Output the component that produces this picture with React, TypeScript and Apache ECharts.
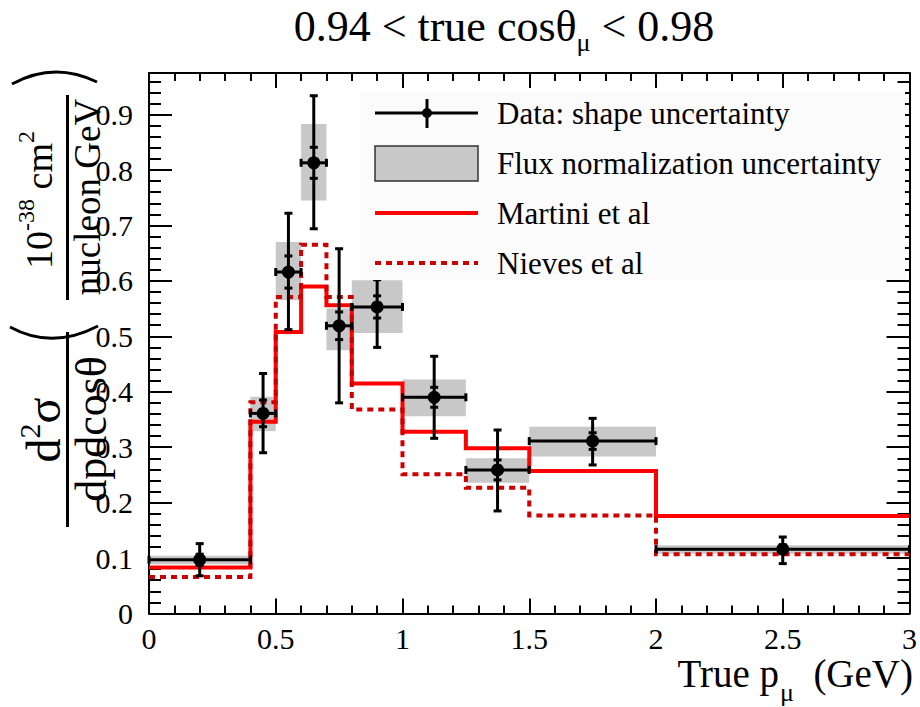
import React, { useEffect, useRef } from 'react';
import * as echarts from 'echarts';

// ---- data ----
const BIN_EDGES = [0, 0.4, 0.5, 0.6, 0.7, 0.8, 1.0, 1.25, 1.5, 2.0, 3.0];
const DATA_X = [0.2, 0.45, 0.55, 0.65, 0.75, 0.9, 1.125, 1.375, 1.75, 2.5];
const DATA_Y = [0.097, 0.361, 0.616, 0.813, 0.519, 0.553, 0.39, 0.259, 0.311, 0.116];
const ERR_UP = [0.029, 0.072, 0.106, 0.121, 0.139, 0.049, 0.074, 0.072, 0.041, 0.022];
const ERR_DOWN = [0.029, 0.071, 0.104, 0.119, 0.139, 0.073, 0.074, 0.074, 0.043, 0.026];
const STAT_ERR = [0.01, 0.024, 0.029, 0.028, 0.025, 0.02, 0.018, 0.018, 0.015, 0.008];
const FLUX_LOW = [0.089, 0.329, 0.565, 0.745, 0.475, 0.506, 0.356, 0.236, 0.283, 0.108];
const FLUX_HIGH = [0.104, 0.391, 0.67, 0.883, 0.55, 0.601, 0.422, 0.28, 0.337, 0.123];
const MARTINI = [0.083, 0.346, 0.508, 0.59, 0.556, 0.415, 0.328, 0.298, 0.257, 0.176];
const NIEVES = [0.066, 0.381, 0.571, 0.665, 0.571, 0.368, 0.251, 0.227, 0.177, 0.107];

const X_MIN = 0;
const X_MAX = 3;
const X_STEP = 0.5;
const Y_MIN = 0;
const Y_MAX = 0.975;
const Y_STEP = 0.1;

const LEGEND_LABELS = [
  'Data: shape uncertainty',
  'Flux normalization uncertainty',
  'Martini et al',
  'Nieves et al',
];

const FONT = "'Liberation Serif', 'Times New Roman', serif";

function measure(text: string, size: number): number {
  const cv = document.createElement('canvas');
  const ctx = cv.getContext('2d');
  if (!ctx) return text.length * size * 0.5;
  ctx.font = `${size}px 'Liberation Serif'`;
  return ctx.measureText(text).width;
}

export default function App() {
  const ref = useRef<HTMLDivElement>(null);

  useEffect(() => {
    if (!ref.current) return;
    const chart = echarts.init(ref.current, null, { renderer: 'svg' });

    const stepPoints = (vals: number[]) => {
      const pts: number[][] = [];
      vals.forEach((v, i) => {
        pts.push([BIN_EDGES[i], v]);
        pts.push([BIN_EDGES[i + 1], v]);
      });
      return pts;
    };
    const bandRows = FLUX_LOW.map((lo, i) => [BIN_EDGES[i], BIN_EDGES[i + 1], lo, FLUX_HIGH[i]]);
    const dataRows = DATA_X.map((x, i) => [
      x, BIN_EDGES[i], BIN_EDGES[i + 1], DATA_Y[i], ERR_DOWN[i], ERR_UP[i], STAT_ERR[i],
    ]);

    const tickLine = { color: '#000', width: 2 };
    const xBase: any = {
      type: 'value', min: X_MIN, max: X_MAX, interval: X_STEP,
      axisLine: { show: true, onZero: false, lineStyle: tickLine },
      axisTick: { show: true, inside: true, length: 15, lineStyle: tickLine },
      minorTick: { show: true, splitNumber: 5, length: 8, lineStyle: tickLine },
      splitLine: { show: false }, minorSplitLine: { show: false },
    };
    const yBase: any = {
      type: 'value', min: Y_MIN, max: Y_MAX, interval: Y_STEP,
      axisLine: { show: true, onZero: false, lineStyle: tickLine },
      axisTick: { show: true, inside: true, length: 23, lineStyle: tickLine },
      minorTick: { show: true, splitNumber: 5, length: 12, lineStyle: tickLine },
      splitLine: { show: false }, minorSplitLine: { show: false },
    };

    const black = '#000';
    const richText = (sz: number, subSz: number, lh: number, va: string) => ({
      a: { fontFamily: FONT, fontSize: sz, lineHeight: lh, fill: black, color: black },
      s: { fontFamily: FONT, fontSize: subSz, lineHeight: subSz + 2, verticalAlign: va, fill: black, color: black },
    });

    const legX0 = 375, legX1 = 478, legTextX = 497;
    const legY = [113, 163, 213, 263];

    // x-axis title pieces, laid out right to left from the plot's right edge
    const xtRight = 913;
    const xtSize = 39;
    const wGeV = measure('(GeV)', xtSize);
    const wSp = measure('  ', xtSize);
    const wMu = measure('μ', 26);
    const muRight = xtRight - wGeV - wSp;
    const pRight = muRight - wMu - 1;

    const barX = 67.5;

    const graphics: any[] = [
      // title
      {
        type: 'text', x: 504, y: 26, z: 10,
        style: {
          text: '{a|0.94 < true cosθ}{s|μ}{a| < 0.98}',
          rich: richText(44, 26, 58, 'bottom'),
          align: 'center', verticalAlign: 'middle', fill: black,
        },
      },
      // x axis title
      {
        type: 'text', x: xtRight, y: 673, z: 10,
        style: { text: '(GeV)', font: `${xtSize}px ${FONT}`, align: 'right', verticalAlign: 'middle', fill: black },
      },
      {
        type: 'text', x: muRight, y: 692, z: 10,
        style: { text: 'μ', font: `26px ${FONT}`, align: 'right', verticalAlign: 'middle', fill: black },
      },
      {
        type: 'text', x: pRight, y: 673, z: 10,
        style: { text: 'True p', font: `${xtSize}px ${FONT}`, align: 'right', verticalAlign: 'middle', fill: black },
      },
      // y axis title pieces (rotated)
      {
        type: 'text', x: 43, y: 430, rotation: Math.PI / 2, z: 10,
        style: {
          text: '{a|d}{s|2}{a|σ}', rich: richText(48, 30, 58, 'top'),
          align: 'center', verticalAlign: 'middle', fill: black,
        },
      },
      { type: 'line', z: 10, shape: { x1: barX, y1: 332, x2: barX, y2: 527 }, style: { stroke: black, lineWidth: 3 } },
      {
        type: 'text', x: 91, y: 429, rotation: Math.PI / 2, z: 10,
        style: { text: 'dpdcosθ', font: `44px ${FONT}`, align: 'center', verticalAlign: 'middle', fill: black },
      },
      {
        type: 'bezierCurve', z: 10,
        shape: { x1: 10, y1: 327, x2: 98, y2: 326, cpx1: 52, cpy1: 350 },
        style: { stroke: black, lineWidth: 3, fill: 'none' },
      },
      {
        type: 'text', x: 39, y: 200, rotation: Math.PI / 2, z: 10,
        style: {
          text: '{a|10}{s|-38}{a| cm}{s|2}', rich: richText(38, 24, 50, 'top'),
          align: 'center', verticalAlign: 'middle', fill: black,
        },
      },
      { type: 'line', z: 10, shape: { x1: barX, y1: 95, x2: barX, y2: 300 }, style: { stroke: black, lineWidth: 3 } },
      {
        type: 'text', x: 87, y: 197, rotation: Math.PI / 2, z: 10,
        style: { text: 'nucleon GeV', font: `37px ${FONT}`, align: 'center', verticalAlign: 'middle', fill: black },
      },
      {
        type: 'bezierCurve', z: 10,
        shape: { x1: 12, y1: 84, x2: 97, y2: 82, cpx1: 54, cpy1: 61 },
        style: { stroke: black, lineWidth: 3, fill: 'none' },
      },
      // legend background
      { type: 'rect', z: 5, shape: { x: 360, y: 92, width: 545, height: 188 }, style: { fill: '#fbfbfb' } },
      // legend: data marker
      { type: 'line', z: 6, shape: { x1: legX0, y1: legY[0], x2: legX1, y2: legY[0] }, style: { stroke: black, lineWidth: 3 } },
      { type: 'line', z: 6, shape: { x1: 427, y1: legY[0] - 14, x2: 427, y2: legY[0] + 15 }, style: { stroke: black, lineWidth: 3 } },
      { type: 'circle', z: 6, shape: { cx: 427, cy: legY[0], r: 5 }, style: { fill: black } },
      // legend: flux box
      {
        type: 'rect', z: 6, shape: { x: legX0, y: 146, width: legX1 - legX0, height: 35 },
        style: { fill: '#c8c8c8', stroke: '#333', lineWidth: 1.5 },
      },
      // legend: Martini
      { type: 'line', z: 6, shape: { x1: legX0, y1: legY[2], x2: legX1, y2: legY[2] }, style: { stroke: '#ff0000', lineWidth: 4 } },
      // legend: Nieves
      {
        type: 'line', z: 6, shape: { x1: legX0, y1: legY[3], x2: legX1, y2: legY[3] },
        style: { stroke: '#cc0000', lineWidth: 4, lineDash: [6, 5] },
      },
    ];
    LEGEND_LABELS.forEach((t, i) => {
      graphics.push({
        type: 'text', x: legTextX, y: legY[i], z: 6,
        style: { text: t, font: `31px ${FONT}`, fill: black, align: 'left', verticalAlign: 'middle' },
      });
    });

    const option: any = {
      animation: false,
      backgroundColor: '#fff',
      textStyle: { fontFamily: FONT },
      grid: { left: 149, right: 5, top: 73, bottom: 93.5, containLabel: false },
      xAxis: [
        {
          ...xBase, position: 'bottom',
          axisLabel: {
            show: true, fontFamily: FONT, fontSize: 30, color: black, margin: 10,
            formatter: (v: number) => String(Math.round(v * 10) / 10),
          },
        },
        { ...xBase, position: 'top', axisLabel: { show: false } },
      ],
      yAxis: [
        {
          ...yBase, position: 'left',
          axisLabel: {
            show: true, fontFamily: FONT, fontSize: 30, color: black, margin: 16,
            formatter: (v: number) => {
              const k = Math.round(v * 10);
              if (Math.abs(v * 10 - k) > 1e-6) return '';
              return k === 0 ? '0' : (k / 10).toFixed(1);
            },
          },
        },
        { ...yBase, position: 'right', axisLabel: { show: false } },
      ],
      graphic: graphics,
      series: [
        {
          type: 'custom', name: 'Flux normalization uncertainty', z: 1,
          data: bandRows,
          encode: { x: [0, 1], y: [2, 3] },
          renderItem: (params: any, api: any) => {
            const p1 = api.coord([api.value(0), api.value(3)]);
            const p2 = api.coord([api.value(1), api.value(2)]);
            return {
              type: 'rect',
              shape: { x: p1[0], y: p1[1], width: p2[0] - p1[0], height: p2[1] - p1[1] },
              style: { fill: '#c8c8c8' },
            };
          },
        },
        {
          type: 'line', name: 'Martini et al', z: 2, data: stepPoints(MARTINI),
          symbol: 'none', lineStyle: { color: '#ff0000', width: 4, join: 'miter' },
        },
        {
          type: 'line', name: 'Nieves et al', z: 3, data: stepPoints(NIEVES),
          symbol: 'none', lineStyle: { color: '#cc0000', width: 4, type: [6, 5], join: 'miter' },
        },
        {
          type: 'custom', name: 'Data: shape uncertainty', z: 4,
          data: dataRows,
          encode: { x: 0, y: 3 },
          renderItem: (params: any, api: any) => {
            const x = api.value(0), xl = api.value(1), xh = api.value(2), y = api.value(3);
            const dn = api.value(4), up = api.value(5), st = api.value(6);
            const p = api.coord([x, y]);
            const pl = api.coord([xl, y]);
            const ph = api.coord([xh, y]);
            const pt = api.coord([x, y + up]);
            const pb = api.coord([x, y - dn]);
            const s1 = api.coord([x, y + st]);
            const s2 = api.coord([x, y - st]);
            const st0 = { stroke: '#000', lineWidth: 3 };
            const ln = (x1: number, y1: number, x2: number, y2: number) => ({
              type: 'line', shape: { x1, y1, x2, y2 }, style: st0,
            });
            const c = 4;
            return {
              type: 'group',
              children: [
                ln(pl[0], p[1], ph[0], p[1]),
                ln(p[0], pt[1], p[0], pb[1]),
                ln(pl[0], p[1] - c, pl[0], p[1] + c),
                ln(ph[0], p[1] - c, ph[0], p[1] + c),
                ln(p[0] - c, pt[1], p[0] + c, pt[1]),
                ln(p[0] - c, pb[1], p[0] + c, pb[1]),
                ln(p[0] - c, s1[1], p[0] + c, s1[1]),
                ln(p[0] - c, s2[1], p[0] + c, s2[1]),
                { type: 'circle', shape: { cx: p[0], cy: p[1], r: 6.5 }, style: { fill: '#000' } },
              ],
            };
          },
        },
      ],
    };

    chart.setOption(option);
    return () => chart.dispose();
  }, []);

  return <div ref={ref} style={{ position: 'fixed', left: 0, top: 0, width: 920, height: 707 }} />;
}
